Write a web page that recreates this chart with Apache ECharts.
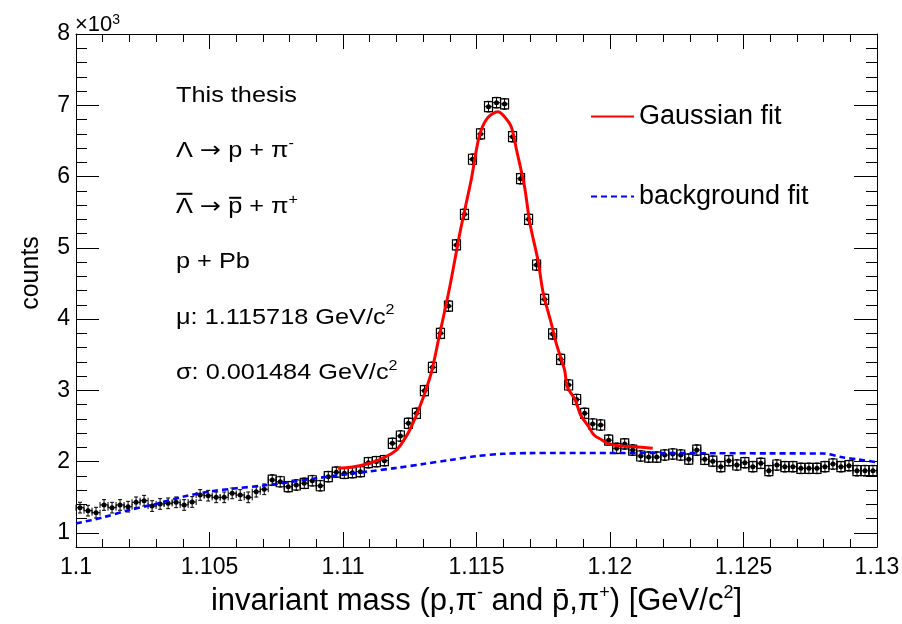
<!DOCTYPE html>
<html><head><meta charset="utf-8">
<script src="https://cdn.jsdelivr.net/npm/echarts@6/dist/echarts.min.js"></script>
<style>html,body{margin:0;padding:0;background:#fff}#c{width:902px;height:624px}</style>
</head><body><div id="c"></div>
<script>
// ---------- data ----------
const massLo = 1.1;          // first bin lower edge [GeV/c^2]
const binWidth = 0.0003;     // histogram bin width
const counts = [
 1352,1310,1282,1390,1352,1390,1366,1427,1450,1375,
 1404,1413,1427,1390,1432,1530,1520,1497,1497,1553,
 1530,1497,1576,1610,1740,1716,1646,1670,1694,1730,
 1660,1787,1850,1834,1843,1857,1983,1997,2011,2255,
 2358,2536,2676,2994,3322,3799,4182,5039,5469,6242,
 6597,6980,7036,7018,6559,5969,5399,4758,4276,3790,
 3434,3074,2870,2676,2526,2512,2300,2185,2246,2161,
 2077,2062,2062,2091,2105,2091,2033,2161,2031,2004,
 1927,2011,1951,1983,1927,1975,1871,1951,1927,1927,
 1904,1904,1904,1927,1965,1927,1941,1871,1871,1871
];
const countErr = 75;          // approximate error bar half-length
const boxFromMass = 1.1072;    // bins from here on are drawn with boxes

const gaussMass = [1.1098,1.1103,1.1110,1.1116,1.1120,1.1122,1.1125,1.1129,1.1133,1.1136,1.1140,1.1144,1.1148,1.1151,1.1154,1.1158,1.1160,1.1163,1.1165,1.1168,1.1170,1.1173,1.1175,1.1178,1.1180,1.1183,1.1184,1.1187,1.1189,1.1192,1.1194,1.1197,1.1199,1.1204,1.1209,1.1216];
const gaussCounts = [1905,1918,1975,2067,2161,2255,2442,2793,3238,3752,4453,5249,5951,6559,6817,6910,6860,6699,6372,5857,5343,4828,4361,3940,3640,3284,3050,2863,2653,2489,2372,2302,2255,2218,2208,2185];

const bkgMass = [1.1000,1.1010,1.1020,1.1030,1.1040,1.1050,1.1060,1.1070,1.1080,1.1090,1.1100,1.1110,1.1120,1.1130,1.1140,1.1150,1.1160,1.1170,1.1180,1.1200,1.1220,1.1240,1.1260,1.1280,1.1287,1.1293,1.1300];
const bkgCounts = [1130,1215,1320,1405,1505,1578,1624,1662,1710,1765,1815,1862,1910,1965,2020,2075,2108,2118,2120,2120,2118,2116,2114,2112,2060,2028,1990];

const yMajorTicks = [1000,2000,3000,4000,5000,6000,7000,8000];
const legendNames = ['Gaussian fit', 'background fit'];
// each line: rich-text tokens (t = normal, a = arrow, s = superscript)
const annotationLines = [
  '{t|This thesis}',
  '{t|Λ }{a|→}{t| p + π}{s|-}',
  '{t|Λ }{a|→}{t| p + π}{s|+}',
  '{t|p + Pb}',
  '{t|μ: 1.115718 GeV/c}{s|2}',
  '{t|σ: 0.001484 GeV/c}{s|2}'
];
const barredLine = 2;   // line whose Λ and p carry an overline
const xTitle = '{t|invariant mass (p,π}{s|-}{t| and p\u0304,π}{s|+}{t|) [GeV/c}{s|2}{t|]}';
const yTitle = 'counts';

// ---------- chart ----------
const FONT = '"Liberation Sans", Arial, Helvetica, sans-serif';
const ARROW_FONT = '"DejaVu Sans", sans-serif';
const histData = counts.map((c, i) => [massLo + (i + 0.5) * binWidth, c]);

const mctx = document.createElement('canvas').getContext('2d');
function textW(str, size, fam) { mctx.font = size + 'px ' + (fam || FONT); return mctx.measureText(str).width; }

const black = {color: '#000', width: 1};
const xBase = {type: 'value', min: 1.1, max: 1.13, interval: 0.005, splitLine: {show: false}};
const yBase = {type: 'value', min: 800, max: 8000, splitLine: {show: false}};

const ANN_SIZE = 22, ANN_SX = 1.15, ANN_X = 176, ANN_TOP = 82, ANN_STEP = 55.4;
const annRich = {
  t: {fontSize: ANN_SIZE, fontFamily: FONT, fill: '#000', lineHeight: 28},
  a: {fontSize: ANN_SIZE, fontFamily: ARROW_FONT, fill: '#000', lineHeight: 28},
  s: {fontSize: 14, fontFamily: FONT, fill: '#000', verticalAlign: 'top', lineHeight: 14}
};
const annGraphics = annotationLines.map((txt, i) => ({
  type: 'text', x: ANN_X, y: ANN_TOP + i * ANN_STEP, scaleX: ANN_SX, z: 100,
  style: {text: txt, verticalAlign: 'top', align: 'left', rich: annRich}
}));
// overlines for the anti-particle line
(function () {
  const top = ANN_TOP + barredLine * ANN_STEP;
  const wL = textW('Λ', ANN_SIZE) * ANN_SX;
  const pStart = (textW('Λ ', ANN_SIZE) + textW('→', ANN_SIZE, ARROW_FONT) + textW(' ', ANN_SIZE)) * ANN_SX;
  const pW = textW('p', ANN_SIZE) * ANN_SX;
  annGraphics.push({type: 'line', z: 100, shape: {x1: ANN_X + 0.5, y1: top + 1, x2: ANN_X + wL - 0.5, y2: top + 1},
    style: {stroke: '#000', lineWidth: 2}});
  annGraphics.push({type: 'line', z: 100, shape: {x1: ANN_X + pStart + 1, y1: top + 5, x2: ANN_X + pStart + pW - 1, y2: top + 5},
    style: {stroke: '#000', lineWidth: 2}});
})();

const chart = echarts.init(document.getElementById('c'), null, {renderer: 'canvas'});
chart.setOption({
  animation: false,
  backgroundColor: '#fff',
  grid: {left: 76, right: 25, top: 34, bottom: 77, containLabel: false, outerBoundsMode: 'none'},
  xAxis: [
    Object.assign({}, xBase, {
      position: 'bottom',
      axisLine: {show: true, lineStyle: black},
      axisTick: {show: true, inside: true, length: 15, lineStyle: black},
      minorTick: {show: true, splitNumber: 5, length: 8, lineStyle: black},
      axisLabel: {show: true, color: '#000', fontSize: 23, fontFamily: FONT, margin: 9, showMinLabel: true, showMaxLabel: true,
        formatter: v => String(+v.toFixed(3))},
      name: xTitle, nameLocation: 'middle', nameGap: 37,
      nameTextStyle: {color: '#000', fontFamily: FONT,
        rich: {t: {fontSize: 31, fontFamily: FONT, color: '#000', lineHeight: 34},
               s: {fontSize: 18, fontFamily: FONT, color: '#000', verticalAlign: 'top', lineHeight: 16}}}
    }),
    Object.assign({}, xBase, {
      position: 'top',
      axisLine: {show: true, lineStyle: black},
      axisTick: {show: true, inside: true, length: 15, lineStyle: black},
      minorTick: {show: true, splitNumber: 5, length: 8, lineStyle: black},
      axisLabel: {show: false}
    })
  ],
  yAxis: [
    Object.assign({}, yBase, {
      position: 'left',
      axisLine: {show: true, lineStyle: black},
      axisTick: {show: true, inside: true, length: 23, lineStyle: black, customValues: yMajorTicks},
      axisLabel: {show: true, color: '#000', fontSize: 23, fontFamily: FONT, margin: 6, customValues: yMajorTicks,
        formatter: v => String(Math.round(v / 1000))}
    }),
    Object.assign({}, yBase, {
      position: 'left', interval: 200,
      axisLine: {show: false},
      axisTick: {show: true, inside: true, length: 11, lineStyle: black},
      axisLabel: {show: false}
    }),
    Object.assign({}, yBase, {
      position: 'right',
      axisLine: {show: true, lineStyle: black},
      axisTick: {show: true, inside: true, length: 23, lineStyle: black, customValues: yMajorTicks},
      axisLabel: {show: false}
    }),
    Object.assign({}, yBase, {
      position: 'right', interval: 200,
      axisLine: {show: false},
      axisTick: {show: true, inside: true, length: 11, lineStyle: black},
      axisLabel: {show: false}
    })
  ],
  legend: {
    show: true, data: legendNames, orient: 'vertical', left: 585, top: 98,
    itemWidth: 43, itemHeight: 14, itemGap: 53,
    itemStyle: {opacity: 0},
    textStyle: {color: '#000', fontSize: 27, fontFamily: FONT}
  },
  graphic: [
    {type: 'text', x: 75, y: 13, z: 100,
      style: {text: '{t|×10}{s|3}', verticalAlign: 'top', rich: {
        t: {fontSize: 22, fontFamily: FONT, fill: '#000', lineHeight: 23},
        s: {fontSize: 14, fontFamily: FONT, fill: '#000', verticalAlign: 'top', lineHeight: 13}}}},
    {type: 'text', x: 31, y: 273, rotation: Math.PI / 2, z: 100,
      style: {text: yTitle, align: 'center', verticalAlign: 'middle', fontSize: 25, fontFamily: FONT, fill: '#000'}}
  ].concat(annGraphics),
  series: [
    {
      type: 'custom', name: 'data', xAxisIndex: 0, yAxisIndex: 0, z: 2,
      data: histData,
      renderItem: function (params, api) {
        const x = api.value(0), y = api.value(1);
        const c = api.coord([x, y]);
        const l = api.coord([x - binWidth / 2, y]);
        const r = api.coord([x + binWidth / 2, y]);
        const t = api.coord([x, y + countErr]);
        const b = api.coord([x, y - countErr]);
        const st = {stroke: '#000', lineWidth: 1, fill: null};
        const ch = [
          {type: 'line', shape: {x1: l[0], y1: c[1], x2: r[0], y2: c[1]}, style: st},
          {type: 'line', shape: {x1: c[0], y1: t[1], x2: c[0], y2: b[1]}, style: st},
          {type: 'line', shape: {x1: l[0], y1: c[1] - 3, x2: l[0], y2: c[1] + 3}, style: st},
          {type: 'line', shape: {x1: r[0], y1: c[1] - 3, x2: r[0], y2: c[1] + 3}, style: st},
          {type: 'line', shape: {x1: c[0] - 2, y1: t[1], x2: c[0] + 2, y2: t[1]}, style: st},
          {type: 'line', shape: {x1: c[0] - 2, y1: b[1], x2: c[0] + 2, y2: b[1]}, style: st},
          {type: 'circle', shape: {cx: c[0], cy: c[1], r: 2.5}, style: {fill: '#000'}}
        ];
        if (x >= boxFromMass) {
          ch.push({type: 'rect', shape: {x: l[0], y: c[1] - 5, width: r[0] - l[0], height: 10},
            style: {fill: null, stroke: '#000', lineWidth: 1.2}});
        }
        return {type: 'group', children: ch};
      }
    },
    {
      type: 'line', name: 'Gaussian fit', xAxisIndex: 0, yAxisIndex: 0, z: 4,
      data: gaussMass.map((m, i) => [m, gaussCounts[i]]),
      symbol: 'none', smooth: 0.3, lineStyle: {color: '#ff0000', width: 3}, itemStyle: {color: '#ff0000'}
    },
    {
      type: 'line', name: 'background fit', xAxisIndex: 0, yAxisIndex: 0, z: 3,
      data: bkgMass.map((m, i) => [m, bkgCounts[i]]),
      symbol: 'none', smooth: 0.3, lineStyle: {color: '#0000ff', width: 2.6, type: [6, 4]}, itemStyle: {color: '#0000ff'}
    }
  ]
});
</script></body></html>
